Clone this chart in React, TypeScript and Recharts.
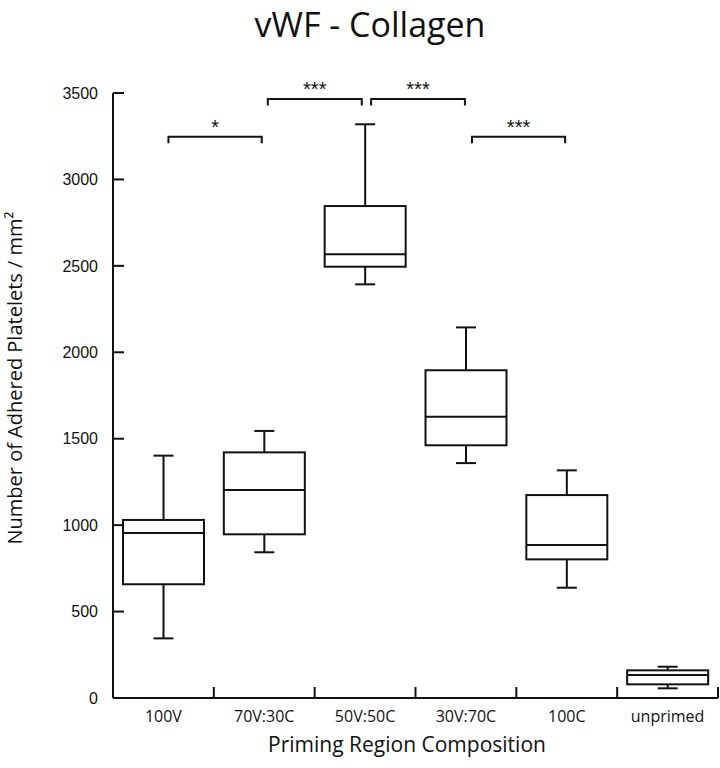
import React from "react";
import { ComposedChart, Bar, XAxis, YAxis, ReferenceLine } from "recharts";

// box plot values (platelets / mm²)
const categories = ["100V", "70V:30C", "50V:50C", "30V:70C", "100C", "unprimed"];
const whiskerLow = [345, 843, 2393, 1359, 638, 56];
const q1 = [658, 947, 2495, 1462, 802, 79];
const median = [955, 1203, 2567, 1627, 885, 133];
const q3 = [1030, 1421, 2846, 1896, 1174, 160];
const whiskerHigh = [1402, 1545, 3319, 2144, 1317, 181];

const yTicks = [0, 500, 1000, 1500, 2000, 2500, 3000, 3500];

// significance brackets, x in category units (category i spans i..i+1)
const bracketStart = [0.55, 1.535, 2.56, 3.56];
const bracketEnd = [1.475, 2.467, 3.49, 4.484];
const bracketLevel = [3247, 3465, 3465, 3247];
const bracketLabel = ["*", "***", "***", "***"];

const boundaries = [1, 2, 3, 4, 5, 6];

const INK = "#111";

const data = categories.map((name, i) => ({
  name,
  pos: i + 0.5,
  range: [whiskerLow[i], whiskerHigh[i]],
  q1: q1[i],
  median: median[i],
  q3: q3[i],
}));

function BoxShape(props: any) {
  const { x, y, width, height, payload } = props;
  const [lo, hi] = payload.range;
  const top = Math.min(y, y + height);
  const bottom = Math.max(y, y + height);
  const toY = (v: number) => top + ((hi - v) / (hi - lo)) * (bottom - top);
  const cx = x + width / 2;
  const cap = 10;
  const yQ1 = toY(payload.q1);
  const yQ3 = toY(payload.q3);
  const yMed = toY(payload.median);
  return (
    <g stroke={INK} strokeWidth={2} fill="none">
      <line x1={cx} x2={cx} y1={top} y2={yQ3} />
      <line x1={cx} x2={cx} y1={yQ1} y2={bottom} />
      <line x1={cx - cap} x2={cx + cap} y1={top} y2={top} />
      <line x1={cx - cap} x2={cx + cap} y1={bottom} y2={bottom} />
      <rect x={x} y={yQ3} width={width} height={yQ1 - yQ3} fill="#fff" />
      <line x1={x} x2={x + width} y1={yMed} y2={yMed} />
    </g>
  );
}

function BracketShape(props: any) {
  const { x1, x2, y1, label } = props;
  const drop = 6.5;
  return (
    <g>
      <path
        d={`M${x1},${y1 + drop}V${y1}H${x2}V${y1 + drop}`}
        stroke={INK}
        strokeWidth={2}
        fill="none"
      />
      <text
        x={(x1 + x2) / 2}
        y={y1 - 3}
        textAnchor="middle"
        fontFamily="Liberation Sans, Arial, sans-serif"
        fontSize={20}
        fill={INK}
      >
        {label}
      </text>
    </g>
  );
}

function BoundaryTick(props: any) {
  const { x1, y1, y2 } = props;
  const base = Math.max(y1, y2);
  return <line x1={x1} x2={x1} y1={base} y2={base - 11} stroke={INK} strokeWidth={2} />;
}

export default function App() {
  return (
    <div
      style={{
        position: "absolute",
        left: 0,
        top: 0,
        width: 720,
        height: 768,
        background: "#fff",
      }}
    >
      <ComposedChart
        width={720}
        height={768}
        data={data}
        margin={{ top: 93, right: 2, bottom: 40, left: 10 }}
      >
        <XAxis
          dataKey="pos"
          type="number"
          domain={[0, 6]}
          ticks={data.map((d) => d.pos)}
          tickFormatter={(v: number) => categories[Math.floor(v)]}
          tickLine={false}
          tickSize={0}
          tickMargin={13}
          height={30}
          axisLine={{ stroke: INK, strokeWidth: 2 }}
          tick={{ fontFamily: "Open Sans, sans-serif", fontSize: 16, fill: INK }}
        />
        <YAxis
          type="number"
          domain={[0, 3500]}
          ticks={yTicks}
          width={103}
          tickSize={-11}
          tickMargin={26}
          axisLine={{ stroke: INK, strokeWidth: 2 }}
          tickLine={{ stroke: INK, strokeWidth: 2 }}
          tick={{ fontFamily: "Liberation Sans, Arial, sans-serif", fontSize: 16, fill: INK }}
        />
        {boundaries.map((b) => (
          <ReferenceLine
            key={`b${b}`}
            x={b}
            ifOverflow="visible"
            shape={(p: any) => <BoundaryTick {...p} />}
          />
        ))}
        <Bar
          dataKey="range"
          barSize={81}
          isAnimationActive={false}
          shape={(p: any) => <BoxShape {...p} />}
        />
        {bracketLabel.map((lab, i) => (
          <ReferenceLine
            key={`s${i}`}
            segment={[
              { x: bracketStart[i], y: bracketLevel[i] },
              { x: bracketEnd[i], y: bracketLevel[i] },
            ]}
            ifOverflow="visible"
            shape={(p: any) => <BracketShape {...p} label={lab} />}
          />
        ))}
      </ComposedChart>
      <svg
        width={720}
        height={768}
        style={{ position: "absolute", left: 0, top: 0, pointerEvents: "none" }}
      >
        <text
          x={370}
          y={37}
          textAnchor="middle"
          fontFamily="Open Sans, sans-serif"
          fontSize={34}
          fill={INK}
        >
          vWF - Collagen
        </text>
        <text
          x={407}
          y={752}
          textAnchor="middle"
          fontFamily="Open Sans, sans-serif"
          fontSize={21}
          fill={INK}
        >
          Priming Region Composition
        </text>
        <text
          transform="translate(22, 378) rotate(-90)"
          textAnchor="middle"
          fontFamily="Open Sans, sans-serif"
          fontSize={20}
          fill={INK}
        >
          Number of Adhered Platelets / mm²
        </text>
      </svg>
    </div>
  );
}
